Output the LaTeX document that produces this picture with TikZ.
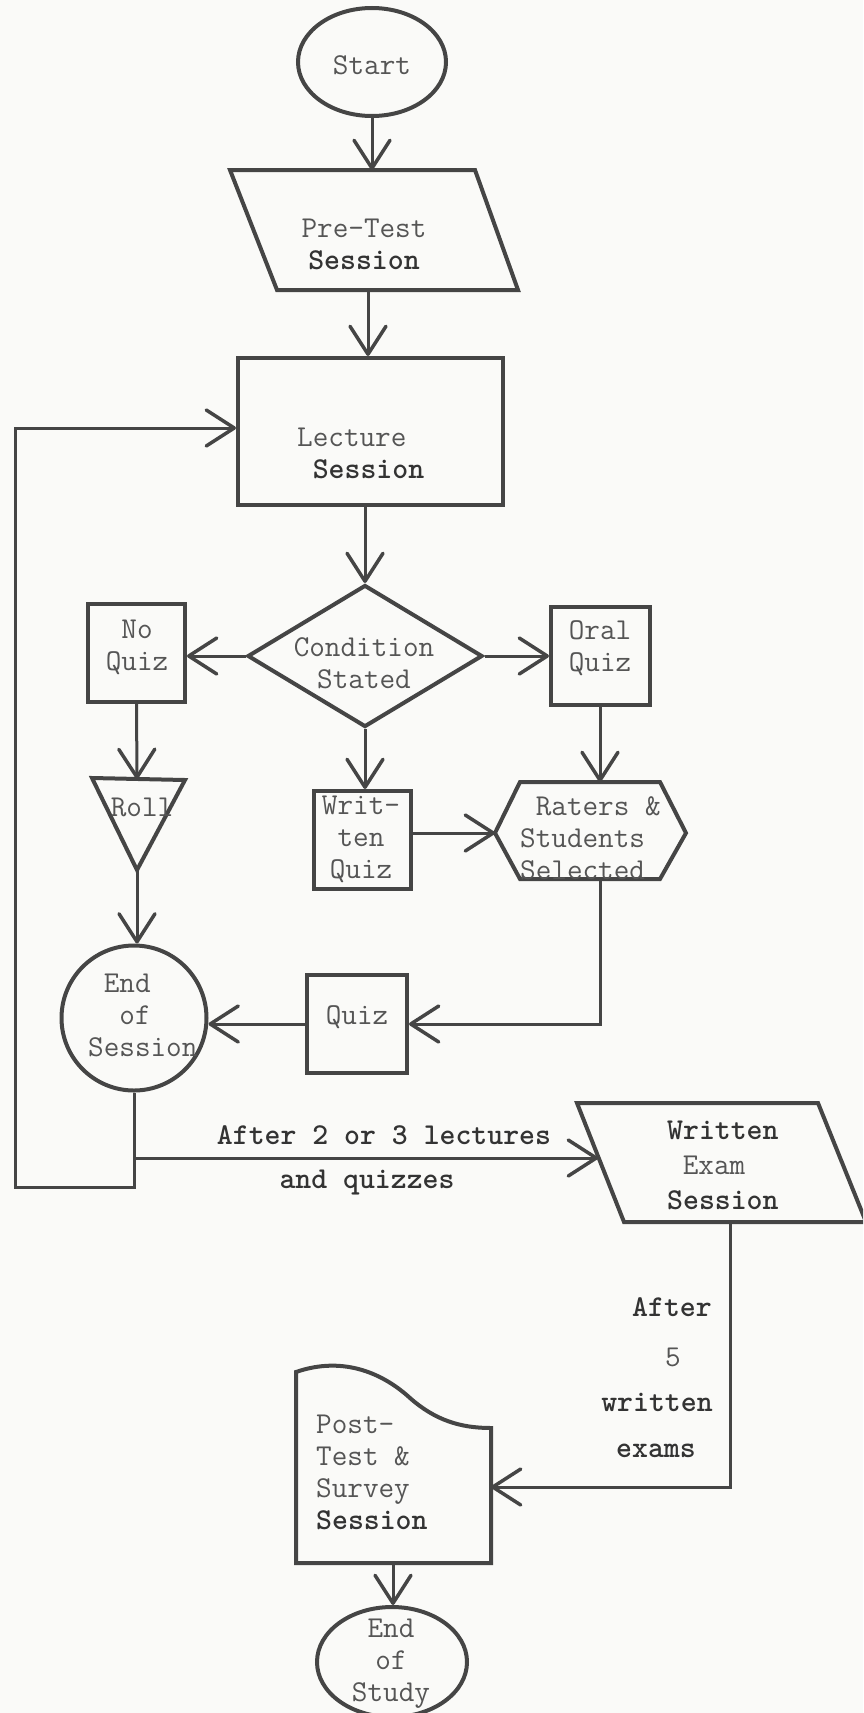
\documentclass[tikz,border=0pt]{standalone}
\usepackage{fontspec}
\usetikzlibrary{arrows.meta,shapes.geometric,calc}
\definecolor{ink}{HTML}{454545}
\definecolor{lighttext}{HTML}{555555}
\definecolor{boldink}{HTML}{333333}
\definecolor{paper}{HTML}{FAFAF8}
\newcommand\Bld[1]{{\bfseries\color{boldink}#1}}
\begin{document}
\begin{tikzpicture}[x=1pt,y=-1pt,
  shapeline/.style={draw=ink, line width=4pt, line join=miter},
  conn/.style={draw=ink, line width=3pt},
  arr/.style={conn, -{Straight Barb[length=28pt,width=36pt,line width=3.5pt,round]}},
  txt/.style={font=\fontsize{30.3}{32}\selectfont\ttfamily, text=lighttext, inner sep=0pt},
  boxnode/.style={shapeline, rectangle, inner sep=0pt},
  ellnode/.style={shapeline, ellipse, inner sep=0pt}
]
\fill[paper] (0,0) rectangle (863,1713);
\useasboundingbox (0,0) rectangle (863,1713);
\clip (0,0) rectangle (863,1713);

% ---------- shapes ----------
\node[ellnode, minimum width=148pt, minimum height=108pt] (start) at (372,62) {};
\node[txt] (startt) at (372,65) {Start};

\draw[shapeline] (230,170) -- (475,170) -- (518,290) -- (277,290) -- cycle;
\coordinate (preT) at (372,170);
\coordinate (preB) at (368,290);
\node[txt, align=center] (pret) at (364,244) {Pre-Test\\\Bld{Session}};

\node[boxnode, minimum width=265pt, minimum height=147pt] (lec) at (370.5,431.5) {};
\node[txt, align=left, anchor=west] (lect) at (297,453) {Lecture\\\hphantom{x}\Bld{Session}};

\node[shapeline, diamond, inner sep=0pt, minimum width=235pt, minimum height=142pt, aspect=1.655] (diam) at (365,656) {};
\node[txt, align=center] (diamt) at (364,663) {Condition\\Stated};

\node[boxnode, minimum width=97pt, minimum height=98pt] (nq) at (136.5,653) {};
\node[txt, align=center] (nqt) at (137,647) {No\\Quiz};

\node[boxnode, minimum width=99pt, minimum height=98pt] (oq) at (600.5,656) {};
\node[txt, align=center] (oqt) at (600,648) {Oral\\Quiz};

\draw[shapeline] (92,778) -- (185,780) -- (137,870) -- cycle;
\coordinate (rollT) at (137,779);
\coordinate (rollB) at (137,870);
\node[txt] (rollt) at (142,807) {Roll};

\node[boxnode, minimum width=97pt, minimum height=98pt] (wq) at (362,840) {};
\node[txt, align=center] (wqt) at (361,839) {Writ-\\ten\\Quiz};

\draw[shapeline] (495,833) -- (520,782) -- (660,782) -- (686,833) -- (660,879) -- (520,879) -- cycle;
\coordinate (hexT) at (600,782);
\coordinate (hexL) at (495,833);
\coordinate (hexB) at (600,879);
\node[txt, align=left, anchor=west] (hext) at (520,838) {\hphantom{x}Raters \&\\Students\\Selected};

\node[shapeline, circle, inner sep=0pt, minimum size=145pt] (eos) at (134,1018) {};
\node[txt, align=left, anchor=west] (eost) at (88,1015) {\hphantom{x}End\\\hphantom{xx}of\\Session};

\node[boxnode, minimum width=100pt, minimum height=98pt] (qz) at (357,1024) {};
\node[txt] (qzt) at (357,1017) {Quiz};

\draw[shapeline] (577,1103) -- (818,1103) -- (866,1222) -- (624,1222) -- cycle;
\coordinate (weL) at (598,1158);
\coordinate (weB) at (730,1222);
\node[txt, align=left, anchor=west, font=\fontsize{30.3}{35}\selectfont\ttfamily] (wet) at (667,1165) {\Bld{Written}\\\hphantom{x}Exam\\\Bld{Session}};

\draw[shapeline] (491,1563) -- (296,1563) -- (296,1372)
  .. controls (345,1355) and (385,1375) .. (410,1398)
  .. controls (435,1420) and (460,1428) .. (491,1428) -- cycle;
\coordinate (ptsE) at (491,1487);
\coordinate (ptsB) at (393,1563);
\node[txt, align=left, anchor=west] (ptst) at (316,1472) {Post-\\Test \&\\Survey\\\Bld{Session}};

\node[ellnode, minimum width=150pt, minimum height=110pt] (eosd) at (392,1662) {};
\node[txt, align=center] (eosdt) at (391,1664) {End\\of\\Study};

% ---------- labels ----------
\node[txt] (lab1) at (384,1135) {\Bld{After 2 or 3 lectures}};
\node[txt] (lab2) at (367,1183) {\Bld{and quizzes}};
\node[txt] (lab3) at (672,1307) {\Bld{After}};
\node[txt] (lab4) at (673,1357) {5};
\node[txt] (lab5) at (657,1402) {\Bld{written}};
\node[txt] (lab6) at (656,1451) {\Bld{exams}};

% ---------- connectors ----------
\draw[arr] (start.south -| preT) -- (preT);
\draw[arr] (preB) -- (preB |- lec.north);
\draw[arr] (diam.north |- lec.south) -- (diam.north);
\draw[arr] (diam.west) -- (nq.east |- diam.west);
\draw[arr] (diam.east) -- (oq.west |- diam.east);
\draw[arr] (diam.south) -- (diam.south |- wq.north);
\draw[arr] (nq.south) -- (rollT);
\draw[arr] (oq.south -| hexT) -- (hexT);
\draw[arr] (wq.east |- hexL) -- (hexL);
\draw[arr] (rollB) -- (rollB |- eos.north);
\draw[arr] (hexB) |- (qz.east);
\draw[arr] (qz.west) -- (eos.east |- qz.west);

\coordinate (loopA) at (15,1187);
\coordinate (loopB) at (15,428);
\coordinate (brkY) at (0,1158);
\draw[arr] (eos.south) |- (loopA) -- (loopB) -- (loopB -| lec.west);
\draw[arr] (eos.south |- brkY) -- (weL);
\draw[arr] (weB) |- (ptsE);
\draw[arr] (ptsB) -- (ptsB |- eosd.north);
\end{tikzpicture}
\end{document}
